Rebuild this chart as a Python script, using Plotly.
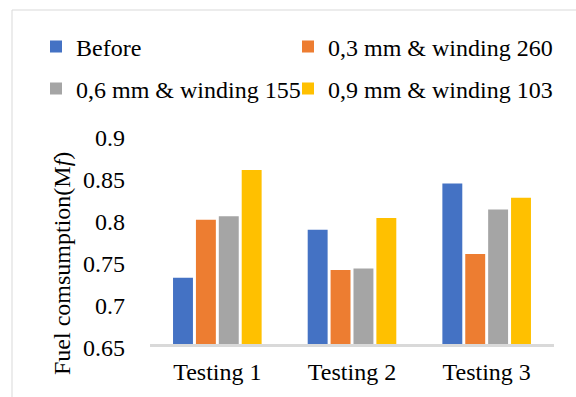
import plotly.graph_objects as go

categories = ["Testing 1", "Testing 2", "Testing 3"]
series_names = ["Before", "0,3 mm & winding 260", "0,6 mm & winding 155", "0,9 mm & winding 103"]
before = [0.729, 0.786, 0.841]
mm03 = [0.798, 0.738, 0.757]
mm06 = [0.802, 0.740, 0.810]
mm09 = [0.857, 0.800, 0.824]
y_ticks = [0.65, 0.7, 0.75, 0.8, 0.85, 0.9]
y_tick_labels = ["0.65", "0.7", "0.75", "0.8", "0.85", "0.9"]

colors = ["#4472C4", "#ED7D31", "#A5A5A5", "#FFC000"]
FONT = "Liberation Serif"
FS = 24

W, H = 576, 397
L, R, T, B = 150, 22, 134, 53
pw, ph = W - L - R, H - T - B


def px_x(x):
    return (x - L) / pw


def px_y(y):
    return (H - B - y) / ph


# one single-entry legend per series, laid out as a 2x2 grid
legend_ids = ["legend", "legend2", "legend3", "legend4"]
legend_pos = [(36, 47), (288, 47), (36, 89), (288, 89)]

fig = go.Figure()
values = [before, mm03, mm06, mm09]
for name, vals, c, lg in zip(series_names, values, colors, legend_ids):
    fig.add_trace(go.Bar(x=categories, y=vals, name=name, marker_color=c,
                         marker_line_width=0, legend=lg))

legend_common = dict(orientation="h",
                     font=dict(family=FONT, size=FS, color="#000000"),
                     bgcolor="rgba(0,0,0,0)", xanchor="left", yanchor="middle",
                     itemwidth=30)

legend_layout = {lg: dict(x=px_x(px), y=px_y(py), **legend_common)
                 for lg, (px, py) in zip(legend_ids, legend_pos)}

fig.update_layout(
    width=W, height=H,
    margin=dict(l=L, r=R, t=T, b=B, autoexpand=False),
    paper_bgcolor="white", plot_bgcolor="white",
    barmode="group", bargap=0.32, bargroupgap=0.13,
    font=dict(family=FONT, size=FS, color="#000000"),
    showlegend=True,
    **legend_layout,
    xaxis=dict(showline=True, linecolor="#d9d9d9", linewidth=2.5,
               ticks="", showgrid=False, ticklabelstandoff=4,
               tickfont=dict(family=FONT, size=FS, color="#000000")),
    yaxis=dict(range=[0.65, 0.9], tickvals=y_ticks, ticktext=y_tick_labels,
               showgrid=False, showline=False, zeroline=False, ticks="",
               ticklabelstandoff=24, ticklabelshift=4,
               tickfont=dict(family=FONT, size=FS, color="#000000")),
)

fig.add_annotation(text="Fuel comsumption(M<i>f</i>)", textangle=-90,
                   xref="paper", yref="paper", x=px_x(62), y=px_y(264),
                   xanchor="center", yanchor="middle", showarrow=False,
                   font=dict(family=FONT, size=FS, color="#000000"))

# chart-area frame (top and left edges visible)
fig.add_shape(type="line", xref="paper", yref="paper",
              x0=px_x(12), x1=px_x(W + 5), y0=px_y(10), y1=px_y(10),
              line=dict(color="#d9d9d9", width=1))
fig.add_shape(type="line", xref="paper", yref="paper",
              x0=px_x(12), x1=px_x(12), y0=px_y(10), y1=px_y(H + 5),
              line=dict(color="#d9d9d9", width=1))

fig.write_html("out.html")
